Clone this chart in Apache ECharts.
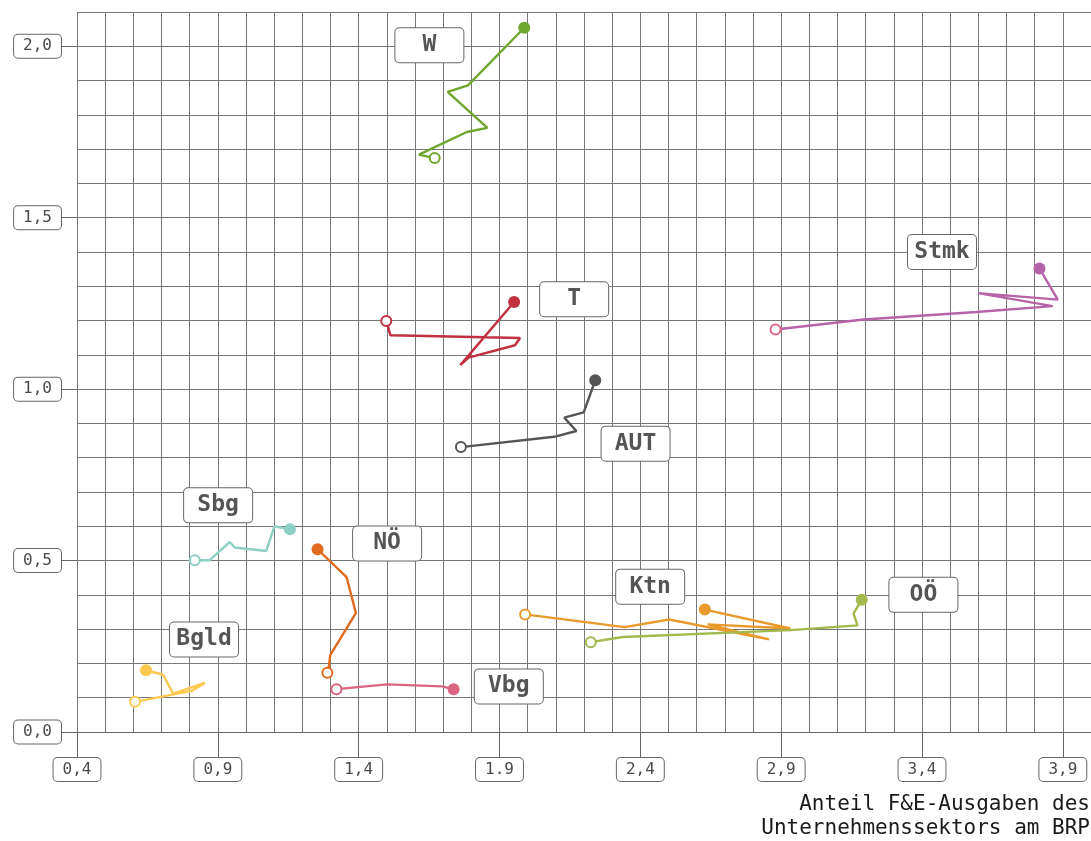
<!DOCTYPE html>
<html>
<head>
<meta charset="utf-8">
<title>F&E-Ausgaben Bundesländer</title>
<script src="https://cdn.jsdelivr.net/npm/echarts@6/dist/echarts.min.js"></script>
<style>
  html, body { margin: 0; padding: 0; background: #fff; }
  #chart { width: 1091px; height: 841px; }
</style>
</head>
<body>
<div id="chart"></div>
<script>
  // tick labels (the reference writes "1.9" with a dot, kept as is)
  const xTickValues = [0.4, 0.9, 1.4, 1.9, 2.4, 2.9, 3.4, 3.9];
  const xTickLabels = ['0,4', '0,9', '1,4', '1.9', '2,4', '2,9', '3,4', '3,9'];
  const yTickValues = [0, 0.5, 1.0, 1.5, 2.0];
  const yTickLabels = ['0,0', '0,5', '1,0', '1,5', '2,0'];

  const regions = ['W', 'T', 'AUT', 'Stmk', 'Sbg', 'NÖ', 'Vbg', 'Bgld', 'Ktn', 'OÖ'];

  // [x, y] per year, first = open circle, last = filled circle
  const W = [[1.670, 1.674], [1.614, 1.684], [1.784, 1.750], [1.857, 1.762], [1.716, 1.867], [1.788, 1.886], [1.988, 2.054]];
  const T = [[1.498, 1.199], [1.513, 1.157], [1.973, 1.149], [1.955, 1.128], [1.790, 1.092], [1.761, 1.070], [1.952, 1.254]];
  const AUT = [[1.763, 0.831], [2.094, 0.861], [2.173, 0.878], [2.130, 0.917], [2.199, 0.932], [2.240, 1.026]];
  const Stmk = [[2.880, 1.174], [3.193, 1.203], [3.593, 1.225], [3.864, 1.242], [3.599, 1.280], [3.882, 1.261], [3.817, 1.352]];
  const Sbg = [[0.818, 0.501], [0.871, 0.501], [0.942, 0.554], [0.960, 0.538], [1.072, 0.528], [1.101, 0.600], [1.156, 0.591]];
  const NOe = [[1.289, 0.173], [1.295, 0.195], [1.299, 0.224], [1.390, 0.347], [1.357, 0.452], [1.254, 0.533]];
  const Vbg = [[1.321, 0.125], [1.501, 0.139], [1.696, 0.133], [1.737, 0.125]];
  const Bgld = [[0.606, 0.088], [0.807, 0.120], [0.854, 0.143], [0.741, 0.112], [0.706, 0.167], [0.645, 0.180]];
  const Ktn = [[1.991, 0.343], [2.344, 0.306], [2.503, 0.328], [2.857, 0.270], [2.639, 0.314], [2.933, 0.302], [2.629, 0.357]];
  const OOe = [[2.224, 0.262], [2.338, 0.277], [2.933, 0.297], [3.171, 0.311], [3.157, 0.345], [3.186, 0.386]];

  const seriesData = [W, T, AUT, Stmk, Sbg, NOe, Vbg, Bgld, Ktn, OOe];

  // where the name boxes sit (data coords)
  const labelPos = [[1.651, 2.003], [2.165, 1.262], [2.383, 0.841], [3.471, 1.400], [0.901, 0.661],
    [1.501, 0.550], [1.933, 0.133], [0.851, 0.270], [2.435, 0.424], [3.405, 0.400]];

  const lineColors = ['#6ea62e', '#c0303f', '#555555', '#b565a7', '#8ccfc4', '#e06b1f', '#d9657f', '#fdc94e', '#e99a2c', '#a2b94c'];
  const startColors = ['#6ea62e', '#c0303f', '#555555', '#e0668a', '#8ccfc4', '#e06b1f', '#d9657f', '#fdc94e', '#e99a2c', '#a2b94c'];

  const FONT = '"DejaVu Sans Mono", "Liberation Mono", monospace';
  const GRID_COLOR = '#777';

  const boxLabel = {
    fontFamily: FONT,
    fontSize: 16,
    color: '#4a4a4a',
    backgroundColor: '#fff',
    borderColor: '#666',
    borderWidth: 1,
    borderRadius: 4,
    padding: [4, 9, 3, 9]
  };

  function buildLine(points, i) {
    const data = points.map((p, k) => {
      if (k === 0) {
        return {
          value: p, symbol: 'circle', symbolSize: 10,
          itemStyle: { color: '#fff', borderColor: startColors[i], borderWidth: 2 }
        };
      }
      if (k === points.length - 1) {
        return {
          value: p, symbol: 'circle', symbolSize: 12,
          itemStyle: { color: lineColors[i], borderWidth: 0 }
        };
      }
      return { value: p, symbol: 'none' };
    });
    return {
      name: regions[i],
      type: 'line',
      xAxisIndex: 0,
      yAxisIndex: 0,
      data: data,
      showSymbol: true,
      lineStyle: { color: lineColors[i], width: 2.4 },
      itemStyle: { color: lineColors[i] },
      z: 3,
      silent: true,
      animation: false
    };
  }

  const series = seriesData.map(buildLine);

  series.push({
    type: 'scatter',
    xAxisIndex: 0,
    yAxisIndex: 0,
    symbolSize: 2,
    itemStyle: { color: 'rgba(0,0,0,0)', opacity: 1 },
    data: regions.map((r, i) => ({ name: r, value: labelPos[i] })),
    label: {
      show: true,
      position: 'inside',
      formatter: '{b}',
      fontFamily: FONT,
      fontSize: 23,
      fontWeight: 'bold',
      color: '#555',
      backgroundColor: '#fff',
      borderColor: '#666',
      borderWidth: 1,
      borderRadius: 4,
      width: 56,
      height: 24,
      lineHeight: 24,
      align: 'center',
      verticalAlign: 'middle',
      padding: [5, 6, 5, 6],
      opacity: 1
    },
    labelLayout: { hideOverlap: false },
    z: 5,
    silent: true,
    animation: false
  });

  const chart = echarts.init(document.getElementById('chart'), null, { renderer: 'canvas' });

  chart.setOption({
    animation: false,
    backgroundColor: '#fff',
    grid: { left: 77, top: 12, width: 1018, height: 720, containLabel: false },
    xAxis: [
      {
        type: 'value', min: 0.4, max: 4.0, interval: 0.1,
        axisLine: { show: true, lineStyle: { color: '#666', width: 1 } },
        axisTick: { show: false },
        axisLabel: { show: false },
        splitLine: { show: true, lineStyle: { color: GRID_COLOR, width: 1 } }
      },
      {
        type: 'value', min: 0.4, max: 4.0, position: 'bottom',
        axisLine: { show: false },
        axisTick: { show: true, length: 26, customValues: xTickValues, lineStyle: { color: '#666' } },
        axisLabel: Object.assign({
          show: true, margin: 26, customValues: xTickValues,
          formatter: (v) => xTickLabels[Math.round((v - 0.4) / 0.5)]
        }, boxLabel),
        splitLine: { show: false }
      }
    ],
    yAxis: [
      {
        type: 'value', min: 0, max: 2.1, interval: 0.1,
        axisLine: { show: false },
        axisTick: { show: false },
        axisLabel: { show: false },
        splitLine: { show: true, lineStyle: { color: GRID_COLOR, width: 1 } }
      },
      {
        type: 'value', min: 0, max: 2.1, position: 'left',
        axisLine: { show: false },
        axisTick: { show: true, length: 16, customValues: yTickValues, lineStyle: { color: '#666' } },
        axisLabel: Object.assign({
          show: true, margin: 16, customValues: yTickValues,
          formatter: (v) => yTickLabels[Math.round(v / 0.5)]
        }, boxLabel),
        splitLine: { show: false }
      }
    ],
    graphic: [{
      type: 'text',
      right: 1,
      top: 793,
      style: {
        text: 'Anteil F&E-Ausgaben des\nUnternehmenssektors am BRP',
        font: '21px ' + FONT,
        fill: '#1a1a1a',
        textAlign: 'right',
        lineHeight: 24
      }
    }],
    series: series
  });
</script>
</body>
</html>
